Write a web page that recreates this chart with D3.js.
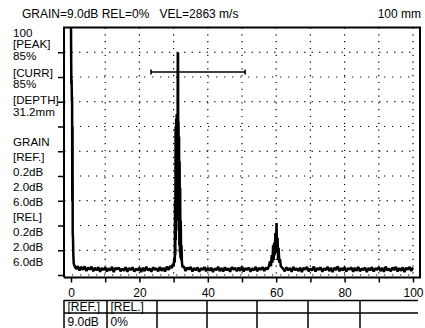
<!DOCTYPE html>
<html>
<head>
<meta charset="utf-8">
<script src="https://cdn.jsdelivr.net/npm/d3@7"></script>
<style>
  html, body { margin: 0; padding: 0; background: #fff; }
  svg { display: block; font-family: "Liberation Sans", Arial, sans-serif; }
  .lbl { font-size: 12px; fill: #000; }
  .side { font-size: 11.6px; fill: #000; }
</style>
</head>
<body>
<svg id="chart" width="425" height="328"></svg>
<script>
// header / side panel texts
const headerText = 'GRAIN=9.0dB REL=0%\u00a0\u00a0\u00a0VEL=2863 m/s'
const rangeText = '100 mm'
const sideTop = ['100', '[PEAK]', '85%', '[CURR]', '85%', '[DEPTH]', '31.2mm']
const sideBottom = ['GRAIN', '[REF.]', '0.2dB', '2.0dB', '6.0dB', '[REL]', '0.2dB', '2.0dB', '6.0dB']

// axes
const xTicks = [0, 10, 20, 30, 40, 50, 60, 70, 80, 90, 100]
const xLabels = [0, 20, 40, 60, 80, 100]
const yTicks = [0, 10, 20, 30, 40, 50, 60, 70, 80, 90]

// gate (mm, mm, %)
const gateStart = 23.4
const gateEnd = 50.9
const gateLevel = 82

// A-scan trace: [depth mm, amplitude %]
const mainBang = [[0, 100], [0.1, 77], [0.18, 79], [0.26, 70], [0.32, 72], [0.38, 30], [0.44, 60], [0.5, 17], [0.58, 15], [0.68, 8], [0.8, 4.6]]
const noiseA = [[1.0, 3.8], [1.5, 2.4], [2.0, 3.6], [2.5, 1.8], [3.0, 3.3], [3.5, 2.1], [4.0, 3.5], [4.5, 1.6], [5.0, 3.0], [5.5, 2.2],
  [6.0, 3.4], [6.5, 1.5], [7.0, 2.9], [7.5, 1.9], [8.0, 3.2], [8.5, 1.3], [9.0, 2.8], [9.5, 2.0], [10.0, 3.1], [10.5, 1.4],
  [11.0, 2.7], [11.5, 1.8], [12.0, 3.3], [12.5, 1.2], [13.0, 2.9], [13.5, 2.3], [14.0, 3.0], [14.5, 1.5], [15.0, 2.6], [15.5, 1.7],
  [16.0, 3.2], [16.5, 1.3], [17.0, 2.8], [17.5, 2.0], [18.0, 3.1], [18.5, 1.4], [19.0, 2.5], [19.5, 1.9], [20.0, 3.0], [20.5, 1.2],
  [21.0, 2.9], [21.5, 1.6], [22.0, 3.3], [22.5, 1.8], [23.0, 2.6], [23.5, 1.3], [24.0, 3.1], [24.5, 2.1], [25.0, 2.7], [25.5, 1.5],
  [26.0, 3.2], [26.5, 1.7], [27.0, 2.9], [27.5, 1.4], [28.0, 3.4], [28.5, 2.0], [29.0, 3.6], [29.5, 2.8]]
const echo1 = [[29.8, 4.5], [30.0, 3.5], [30.2, 7], [30.35, 5], [30.42, 30], [30.5, 8], [30.58, 60], [30.66, 14], [30.74, 63],
  [30.82, 22], [30.9, 65], [30.98, 30], [31.06, 64], [31.14, 40], [31.22, 89.7], [31.3, 89.7], [31.36, 45], [31.44, 62],
  [31.52, 18], [31.6, 56], [31.68, 12], [31.76, 46], [31.84, 9], [31.92, 35], [32.0, 7], [32.1, 22], [32.2, 6],
  [32.3, 12], [32.45, 5], [32.6, 3.2]]
const noiseB = [[33.0, 3.5], [33.5, 1.6], [34.0, 3.0], [34.5, 2.2], [35.0, 3.3], [35.5, 1.4], [36.0, 2.8], [36.5, 1.9], [37.0, 3.1], [37.5, 1.3],
  [38.0, 2.7], [38.5, 2.1], [39.0, 3.2], [39.5, 1.5], [40.0, 2.9], [40.5, 1.8], [41.0, 3.0], [41.5, 1.2], [42.0, 2.6], [42.5, 2.0],
  [43.0, 3.3], [43.5, 1.6], [44.0, 2.8], [44.5, 1.4], [45.0, 3.1], [45.5, 1.9], [46.0, 2.7], [46.5, 1.3], [47.0, 3.2], [47.5, 2.2],
  [48.0, 2.9], [48.5, 1.5], [49.0, 3.0], [49.5, 1.7], [50.0, 3.4], [50.5, 1.4], [51.0, 2.8], [51.5, 2.0], [52.0, 3.1], [52.5, 1.3],
  [53.0, 2.7], [53.5, 1.8], [54.0, 3.3], [54.5, 1.5], [55.0, 2.9], [55.5, 2.1], [56.0, 3.2], [56.5, 1.6], [57.0, 3.0], [57.5, 2.3]]
const echo2 = [[57.9, 3.8], [58.2, 5.5], [58.45, 3.5], [58.7, 8], [58.9, 5], [59.1, 12], [59.25, 6], [59.4, 13], [59.55, 8],
  [59.75, 17], [59.9, 10], [60.1, 21], [60.25, 9], [60.4, 15], [60.55, 6], [60.7, 11], [60.9, 5], [61.1, 6.5], [61.35, 3.5], [61.6, 3.2]]
const noiseC = [[62.0, 2.6], [62.5, 1.5], [63.0, 3.1], [63.5, 1.9], [64.0, 2.8], [64.5, 1.3], [65.0, 3.3], [65.5, 2.0], [66.0, 2.7], [66.5, 1.6],
  [67.0, 3.0], [67.5, 1.2], [68.0, 2.9], [68.5, 2.2], [69.0, 3.2], [69.5, 1.5], [70.0, 2.6], [70.5, 1.8], [71.0, 3.4], [71.5, 1.4],
  [72.0, 2.8], [72.5, 2.1], [73.0, 3.1], [73.5, 1.3], [74.0, 2.7], [74.5, 1.9], [75.0, 3.3], [75.5, 1.6], [76.0, 2.9], [76.5, 1.2],
  [77.0, 3.0], [77.5, 2.0], [78.0, 3.5], [78.5, 1.5], [79.0, 2.8], [79.5, 1.8], [80.0, 3.2], [80.5, 1.4], [81.0, 2.7], [81.5, 2.2],
  [82.0, 3.1], [82.5, 1.3], [83.0, 2.9], [83.5, 1.7], [84.0, 3.3], [84.5, 1.5], [85.0, 2.6], [85.5, 2.0], [86.0, 3.0], [86.5, 1.2],
  [87.0, 2.8], [87.5, 1.9], [88.0, 3.2], [88.5, 1.4], [89.0, 2.7], [89.5, 2.1], [90.0, 3.1], [90.5, 1.6], [91.0, 2.9], [91.5, 1.3],
  [92.0, 3.4], [92.5, 1.8], [93.0, 2.6], [93.5, 1.5], [94.0, 3.0], [94.5, 2.0], [95.0, 3.3], [95.5, 1.4], [96.0, 2.8], [96.5, 1.7],
  [97.0, 3.1], [97.5, 1.2], [98.0, 2.9], [98.5, 2.2], [99.0, 3.2], [99.5, 1.6], [100.0, 3.0]]

// bottom table
const tableHeaders = ['[REF.]', '[REL.]']
const tableValues = ['9.0dB', '0%']

const svg = d3.select('#chart')

const x = d3.scaleLinear().domain([0, 100]).range([71, 413])
const y = d3.scaleLinear().domain([0, 100]).range([275, 27.5])

const frame = { left: 64, right: 420, top: 27.5, bottom: 277.5 }

// header
svg.append('text').attr('class', 'lbl')
    .attr('x', 22).attr('y', 18)
    .text(headerText)
svg.append('text').attr('class', 'lbl')
    .attr('x', 421).attr('y', 18)
    .attr('text-anchor', 'end')
    .text(rangeText)

// side panel
svg.append('g').selectAll('text')
    .data(sideTop)
    .join('text')
    .attr('class', 'side')
    .attr('x', 13)
    .attr('y', (d, i) => [36.5, 48, 59.5, 76.5, 88, 103.5, 115.5][i])
    .text(d => d)

svg.append('g').selectAll('text')
    .data(sideBottom)
    .join('text')
    .attr('class', 'side')
    .attr('x', 13)
    .attr('y', (d, i) => 145.5 + i * 15.1)
    .text(d => d)

// grid
const grid = svg.append('g').attr('class', 'grid')
grid.selectAll('line.gx')
    .data(xTicks.slice(1))
    .join('line')
    .attr('class', 'gx')
    .attr('x1', d => x(d)).attr('x2', d => x(d))
    .attr('y1', y(100)).attr('y2', y(0))
    .attr('stroke', '#000')
    .attr('stroke-width', 1.2)
    .attr('stroke-dasharray', '1.2,5.6')

grid.selectAll('line.gy')
    .data(yTicks)
    .join('line')
    .attr('class', 'gy')
    .attr('x1', frame.left).attr('x2', x(100))
    .attr('y1', d => y(d)).attr('y2', d => y(d))
    .attr('stroke', '#000')
    .attr('stroke-width', 1.2)
    .attr('stroke-dasharray', (d, i) => i % 2 ? '1.5,6' : '1.2,6.8')

// left axis ticks
svg.append('g')
    .attr('transform', `translate(${frame.left},0)`)
    .call(d3.axisLeft(y).tickValues(yTicks).tickSize(6).tickFormat(''))
    .call(g => g.select('.domain').remove())
    .call(g => g.selectAll('line').attr('stroke-width', 1.5))

// bottom axis
const xAxis = svg.append('g')
    .attr('transform', `translate(0,${frame.bottom})`)
    .call(d3.axisBottom(x).tickValues(xTicks).tickSize(5)
        .tickFormat(d => xLabels.includes(d) ? d : ''))
    .call(g => g.select('.domain').remove())
xAxis.selectAll('line').attr('stroke-width', 1.5)
xAxis.selectAll('text')
    .attr('font-size', 12)
    .attr('font-family', '"Liberation Sans", Arial, sans-serif')
    .attr('fill', '#000')
    .attr('dy', '0.95em')

// frame
svg.append('path')
    .attr('d', `M${frame.left},${frame.bottom}V${frame.top}H${frame.right}V${frame.bottom}H${frame.left}`)
    .attr('fill', 'none')
    .attr('stroke', '#000')
    .attr('stroke-width', 2)

// trace
const echo = [].concat(mainBang, noiseA, echo1, noiseB, echo2, noiseC)
const line = d3.line().x(d => x(d[0])).y(d => y(d[1]))
svg.append('path')
    .datum(echo)
    .attr('d', line)
    .attr('fill', 'none')
    .attr('stroke', '#000')
    .attr('stroke-width', 2.5)
    .attr('stroke-linejoin', 'bevel')

// gate
const gate = svg.append('g').attr('stroke', '#000')
gate.append('line')
    .attr('x1', x(gateStart)).attr('x2', x(gateEnd))
    .attr('y1', y(gateLevel)).attr('y2', y(gateLevel))
    .attr('stroke-width', 1.6)
gate.selectAll('line.cap')
    .data([gateStart, gateEnd])
    .join('line')
    .attr('class', 'cap')
    .attr('x1', d => x(d)).attr('x2', d => x(d))
    .attr('y1', y(gateLevel) - 2.5).attr('y2', y(gateLevel) + 2.5)
    .attr('stroke-width', 1.6)

// table
const tbl = svg.append('g').attr('stroke', '#000').attr('stroke-width', 1.5)
const colX = [64, 107, 157, 207, 257, 308, 360]
tbl.selectAll('line.col')
    .data(colX)
    .join('line')
    .attr('class', 'col')
    .attr('x1', d => d).attr('x2', d => d)
    .attr('y1', 300).attr('y2', 328)
tbl.selectAll('line.row')
    .data([300.5, 313])
    .join('line')
    .attr('class', 'row')
    .attr('x1', 64).attr('x2', 418)
    .attr('y1', d => d).attr('y2', d => d)

svg.append('g').selectAll('text')
    .data(tableHeaders)
    .join('text')
    .attr('class', 'lbl')
    .attr('x', (d, i) => colX[i] + 3.5)
    .attr('y', 311)
    .text(d => d)
svg.append('g').selectAll('text')
    .data(tableValues)
    .join('text')
    .attr('class', 'lbl')
    .attr('x', (d, i) => colX[i] + 3.5)
    .attr('y', 325.5)
    .text(d => d)
</script>
</body>
</html>
